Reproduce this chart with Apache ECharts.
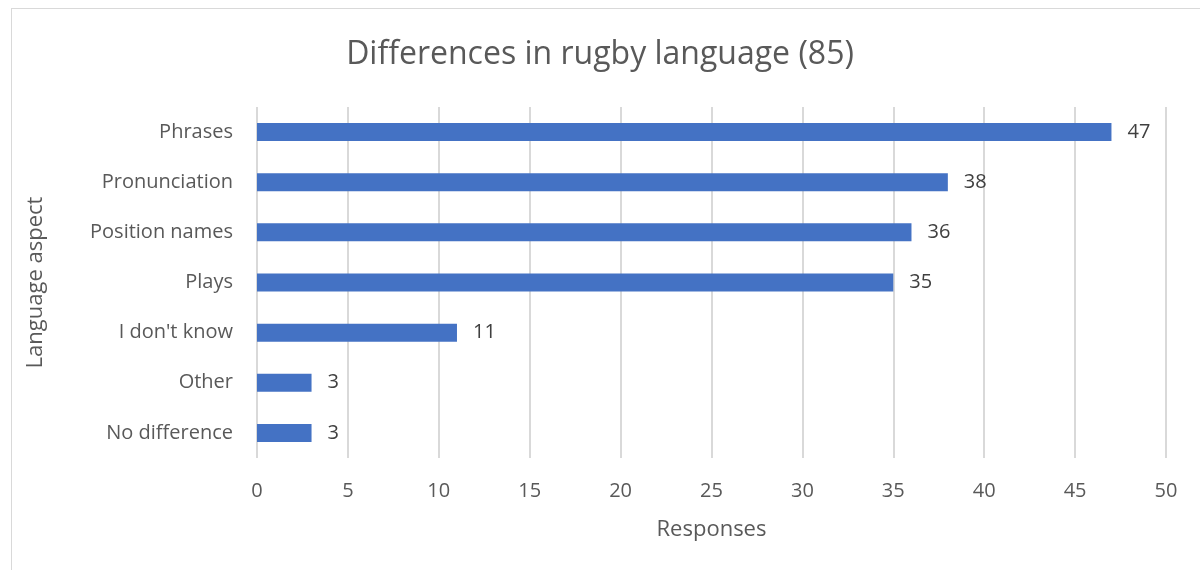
<!DOCTYPE html>
<html>
<head>
<meta charset="utf-8">
<script src="https://cdn.jsdelivr.net/npm/echarts@6/dist/echarts.min.js"></script>
<style>
  html, body { margin: 0; padding: 0; background: #fff; }
  #frame {
    position: absolute; left: 11px; top: 8px; width: 1300px; height: 700px;
    border: 1px solid #d9d9d9; box-sizing: border-box;
  }
  #chart { position: absolute; left: 0; top: 0; width: 1200px; height: 570px; }
</style>
</head>
<body>
<div id="frame"></div>
<div id="chart"></div>
<script>
// categories top to bottom
const aspects = ['Phrases', 'Pronunciation', 'Position names', 'Plays', "I don't know", 'Other', 'No difference']
const responses = [47, 38, 36, 35, 11, 3, 3]

const font = 'Open Sans'
const chart = echarts.init(document.getElementById('chart'))

let option = {
  animation: false,
  title: {
    text: 'Differences in rugby language (85)',
    left: 'center',
    top: 34,
    textStyle: { fontFamily: font, fontSize: 32, fontWeight: 'normal', color: '#595959' }
  },
  grid: { left: 257, right: 34, top: 107, bottom: 112 },
  xAxis: {
    type: 'value',
    min: 0,
    max: 50,
    interval: 5,
    name: 'Responses',
    nameLocation: 'middle',
    nameGap: 61,
    nameTextStyle: { fontFamily: font, fontSize: 22, color: '#595959' },
    axisLine: { show: false },
    axisTick: { show: false },
    axisLabel: { fontFamily: font, fontSize: 20, color: '#595959', margin: 23 },
    splitLine: { lineStyle: { color: '#d9d9d9', width: 2 } }
  },
  yAxis: {
    type: 'category',
    inverse: true,
    data: aspects,
    name: 'Language aspect',
    nameLocation: 'middle',
    nameGap: 210,
    nameTextStyle: { fontFamily: font, fontSize: 22, color: '#595959' },
    axisLine: { show: false },
    axisTick: { show: false },
    axisLabel: { fontFamily: font, fontSize: 20, color: '#595959', margin: 24 }
  },
  series: [{
    type: 'bar',
    data: responses,
    barWidth: 18,
    itemStyle: { color: '#4472C4' },
    label: {
      show: true,
      position: 'right',
      distance: 16,
      fontFamily: font,
      fontSize: 20,
      color: '#404040'
    }
  }]
}
chart.setOption(option)
</script>
</body>
</html>
